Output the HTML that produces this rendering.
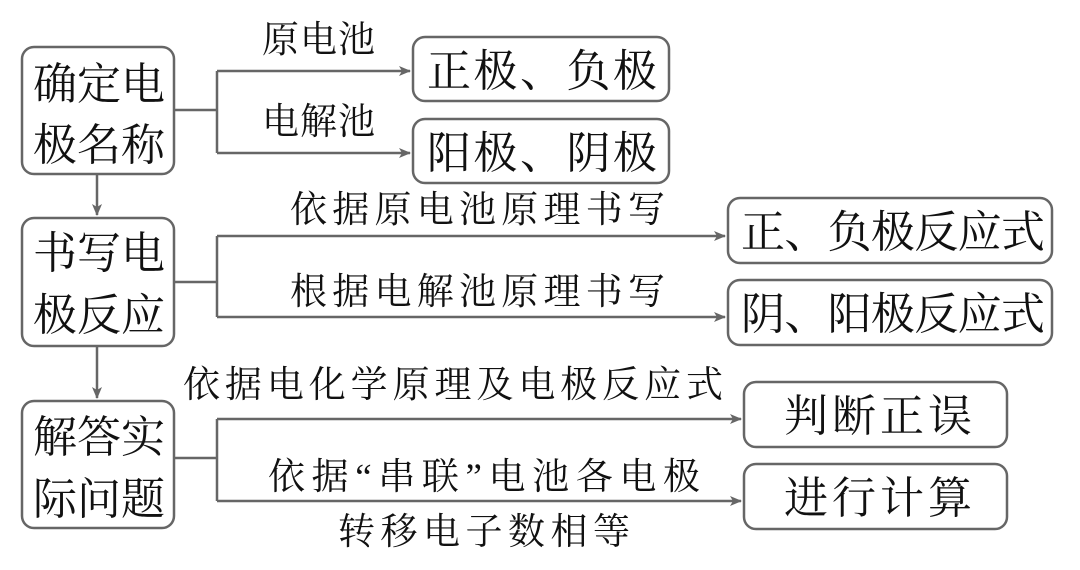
<!DOCTYPE html>
<html><head><meta charset="utf-8"><style>
html,body{margin:0;padding:0;background:#fff;}
svg text{font-family:"Liberation Serif","Noto Serif CJK SC",serif;fill:#111;}
</style></head><body>
<svg width="1080" height="565" viewBox="0 0 1080 565" xmlns="http://www.w3.org/2000/svg">
<defs><marker id="a" markerWidth="12" markerHeight="10" refX="11" refY="5" orient="auto" markerUnits="userSpaceOnUse"><path d="M0,0 L12,5 L0,10 L3,5 Z" fill="#666"/></marker></defs>
<g fill="none" stroke="#666" stroke-width="2.5">
<rect x="22" y="47" width="152" height="127" rx="12"/>
<rect x="22" y="218" width="152" height="128" rx="12"/>
<rect x="22" y="401" width="152" height="127" rx="12"/>
<rect x="413" y="37" width="256" height="64" rx="12"/>
<rect x="413" y="119" width="256" height="64" rx="12"/>
<rect x="728" y="198" width="324" height="65" rx="12"/>
<rect x="728" y="280" width="324" height="65" rx="12"/>
<rect x="744" y="382" width="263" height="65" rx="12"/>
<rect x="744" y="464" width="263" height="65" rx="12"/>
<path d="M174,110 H217 M217,71 V153"/>
<path d="M217,71 H410" marker-end="url(#a)"/>
<path d="M217,153 H410" marker-end="url(#a)"/>
<path d="M174,282 H217 M217,236 V317"/>
<path d="M217,236 H725" marker-end="url(#a)"/>
<path d="M217,317 H725" marker-end="url(#a)"/>
<path d="M174,458 H217 M217,419 V501"/>
<path d="M217,419 H741" marker-end="url(#a)"/>
<path d="M217,501 H741" marker-end="url(#a)"/>
<path d="M97,174 V215" marker-end="url(#a)"/>
<path d="M97,346 V398" marker-end="url(#a)"/>
</g>
<g font-size="44">
<text x="33" y="99" textLength="132">确定电</text>
<text x="33" y="160" textLength="132">极名称</text>
<text x="33" y="268" textLength="132">书写电</text>
<text x="33" y="330" textLength="132">极反应</text>
<text x="33" y="452" textLength="132">解答实</text>
<text x="33" y="514" textLength="132">际问题</text>
<text x="427" y="86" textLength="230">正极、负极</text>
<text x="427" y="168" textLength="230">阳极、阴极</text>
<text x="741" y="247" textLength="304">正、负极反应式</text>
<text x="741" y="329" textLength="304">阴、阳极反应式</text>
<text x="784" y="431" textLength="188">判断正误</text>
<text x="784" y="513" textLength="188">进行计算</text>
</g>
<g font-size="37">
<text x="262" y="52" textLength="113">原电池</text>
<text x="262" y="134" textLength="113">电解池</text>
<text x="290" y="222" textLength="375">依据原电池原理书写</text>
<text x="290" y="304" textLength="375">根据电解池原理书写</text>
<text x="183" y="397" textLength="540">依据电化学原理及电极反应式</text>
<text x="268" y="489" textLength="432">依据“串联”电池各电极</text>
<text x="338" y="544" textLength="292">转移电子数相等</text>
</g>
</svg>
</body></html>
